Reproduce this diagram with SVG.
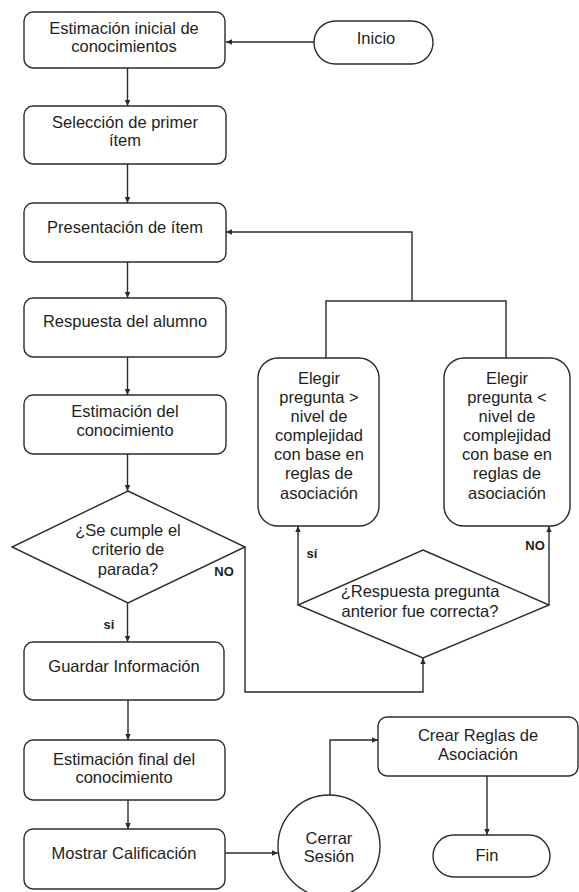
<svg xmlns="http://www.w3.org/2000/svg" width="579" height="892" viewBox="0 0 579 892">
<style>
.n{fill:#fff;stroke:#2b2b2b;stroke-width:1.4}
.t{font-family:"Liberation Sans",Arial,sans-serif;font-size:16.5px;fill:#1e1e1e;text-anchor:middle}
.b{font-family:"Liberation Sans",Arial,sans-serif;font-size:13px;font-weight:bold;fill:#1e1e1e;text-anchor:middle}
.c{fill:none;stroke:#2b2b2b;stroke-width:1.4}
</style>
<defs>
<marker id="a" markerWidth="8" markerHeight="8" refX="7" refY="4" orient="auto" markerUnits="userSpaceOnUse">
<path d="M1,1.3 L7,4 L1,6.7 Z" fill="#2b2b2b"/>
</marker>
</defs>
<rect width="579" height="892" fill="#fff"/>
<g id="connectors">
<path class="c" d="M314,42 H226" marker-end="url(#a)"/>
<path class="c" d="M127.5,68 V106" marker-end="url(#a)"/>
<path class="c" d="M127.5,164 V203" marker-end="url(#a)"/>
<path class="c" d="M127.5,262 V298" marker-end="url(#a)"/>
<path class="c" d="M127.5,357 V395" marker-end="url(#a)"/>
<path class="c" d="M127.5,454 V491" marker-end="url(#a)"/>
<path class="c" d="M127.5,603 V642" marker-end="url(#a)"/>
<path class="c" d="M128,700 V740" marker-end="url(#a)"/>
<path class="c" d="M128,800 V829" marker-end="url(#a)"/>
<path class="c" d="M225,853 H278" marker-end="url(#a)"/>
<path class="c" d="M330,795 V740 H378" marker-end="url(#a)"/>
<path class="c" d="M487,776 V835" marker-end="url(#a)"/>
<path class="c" d="M245,547 V692 H423 V658" marker-end="url(#a)"/>
<path class="c" d="M298,605 V526" marker-end="url(#a)"/>
<path class="c" d="M549,605 V526" marker-end="url(#a)"/>
<path class="c" d="M326,358 V301 H506 V358"/>
<path class="c" d="M412,301 V232 H226" marker-end="url(#a)"/>
<text class="b" x="224" y="576">NO</text>
<text class="b" x="109" y="629">si</text>
<text class="b" x="312" y="558">sí</text>
<text class="b" x="535" y="550">NO</text>
</g>
<g id="inicio">
<rect class="n" x="314" y="21" width="119" height="43" rx="21.5"/>
<text class="t" x="376" y="44">Inicio</text>
</g>
<g id="estimacion-inicial">
<rect class="n" x="24" y="12" width="201" height="56" rx="9"/>
<text class="t" x="124" y="34">Estimación inicial de</text>
<text class="t" x="124" y="52">conocimientos</text>
</g>
<g id="seleccion">
<rect class="n" x="24" y="106" width="202" height="58" rx="9"/>
<text class="t" x="125" y="128">Selección de primer</text>
<text class="t" x="125" y="146">ítem</text>
</g>
<g id="presentacion">
<rect class="n" x="24" y="203" width="202" height="59" rx="9"/>
<text class="t" x="125" y="233">Presentación de ítem</text>
</g>
<g id="respuesta">
<rect class="n" x="24" y="298" width="202" height="59" rx="9"/>
<text class="t" x="125" y="327">Respuesta del alumno</text>
</g>
<g id="estimacion-conocimiento">
<rect class="n" x="24" y="395" width="202" height="59" rx="9"/>
<text class="t" x="125" y="417">Estimación del</text>
<text class="t" x="125" y="436">conocimiento</text>
</g>
<g id="criterio-parada">
<polygon class="n" points="128,491 245,547 128,603 12,547"/>
<text class="t" x="128" y="536">¿Se cumple el</text>
<text class="t" x="128" y="555">criterio de</text>
<text class="t" x="128" y="575">parada?</text>
</g>
<g id="guardar">
<rect class="n" x="24" y="642" width="200" height="58" rx="9"/>
<text class="t" x="124" y="672">Guardar Información</text>
</g>
<g id="estimacion-final">
<rect class="n" x="24" y="740" width="201" height="60" rx="9"/>
<text class="t" x="124" y="765">Estimación final del</text>
<text class="t" x="124" y="783">conocimiento</text>
</g>
<g id="mostrar">
<rect class="n" x="24" y="829" width="201" height="60" rx="9"/>
<text class="t" x="124" y="859">Mostrar Calificación</text>
</g>
<g id="cerrar">
<circle class="n" cx="329" cy="846" r="51"/>
<text class="t" x="329" y="844">Cerrar</text>
<text class="t" x="329" y="862">Sesión</text>
</g>
<g id="crear-reglas">
<rect class="n" x="378" y="717" width="200" height="59" rx="9"/>
<text class="t" x="478" y="741">Crear Reglas de</text>
<text class="t" x="478" y="760">Asociación</text>
</g>
<g id="fin">
<rect class="n" x="433" y="835" width="117" height="42" rx="21"/>
<text class="t" x="487" y="861">Fin</text>
</g>
<g id="elegir-mayor">
<rect class="n" x="258" y="358" width="121" height="168" rx="20"/>
<text class="t" x="319" y="384">Elegir</text>
<text class="t" x="319" y="403">pregunta &gt;</text>
<text class="t" x="319" y="422">nivel de</text>
<text class="t" x="319" y="441">complejidad</text>
<text class="t" x="319" y="460">con base en</text>
<text class="t" x="319" y="479">reglas de</text>
<text class="t" x="319" y="499">asociación</text>
</g>
<g id="elegir-menor">
<rect class="n" x="444" y="358" width="126" height="168" rx="20"/>
<text class="t" x="507" y="384">Elegir</text>
<text class="t" x="507" y="403">pregunta &lt;</text>
<text class="t" x="507" y="422">nivel de</text>
<text class="t" x="507" y="441">complejidad</text>
<text class="t" x="507" y="460">con base en</text>
<text class="t" x="507" y="479">reglas de</text>
<text class="t" x="507" y="499">asociación</text>
</g>
<g id="respuesta-correcta">
<polygon class="n" points="423,550 549,605 423,658 298,605"/>
<text class="t" x="420" y="597">¿Respuesta pregunta</text>
<text class="t" x="420" y="617">anterior fue correcta?</text>
</g>
</svg>
